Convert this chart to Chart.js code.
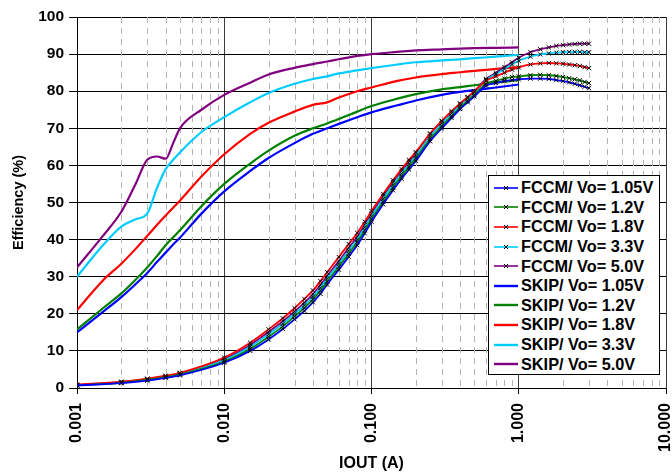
<!DOCTYPE html>
<html>
<head>
<meta charset="utf-8">
<script src="https://cdn.jsdelivr.net/npm/chart.js@4.4.1/dist/chart.umd.min.js"></script>
<style>
  html, body { margin: 0; padding: 0; background: #fff; }
  #wrap { position: relative; width: 672px; height: 474px; }
  #effChart { position: absolute; left: 0; top: 0; }
  #legend {
    position: absolute; left: 488px; top: 175px; width: 172px; height: 200px;
    box-sizing: border-box; border: 1px solid #000; background: #fff;
    padding: 2px 0 0 5px;
    font: bold 16.3px "Liberation Sans", Arial, sans-serif; color: #000;
  }
  #legend .row { display: flex; align-items: center; height: 19.6px; white-space: nowrap; }
  #legend svg { margin-right: 3px; flex: none; }
</style>
</head>
<body>
<div id="wrap">
  <canvas id="effChart" width="672" height="474"></canvas>
  <div id="legend"></div>
</div>
<script>
// Output current (A)
const fccmIout = [0.001, 0.002, 0.003, 0.004, 0.005, 0.01, 0.015, 0.02, 0.025, 0.03, 0.035, 0.04, 0.045, 0.05,
  0.06, 0.07, 0.08, 0.09, 0.1, 0.12, 0.14, 0.16, 0.18, 0.2, 0.25, 0.3, 0.35, 0.4, 0.45, 0.5,
  0.6, 0.7, 0.8, 0.9, 1.0, 1.2, 1.4, 1.6, 1.8, 2.0, 2.2, 2.4, 2.6, 2.8, 3.0];
const skipIout = [0.001, 0.0015, 0.002, 0.0025, 0.003, 0.0035, 0.004, 0.0045, 0.005, 0.007, 0.01, 0.015, 0.02,
  0.03, 0.04, 0.05, 0.06, 0.08, 0.1, 0.15, 0.2, 0.3, 0.4, 0.5, 0.7, 1.0];

// Efficiency (%) - FCCM
const fccm105 = [0.7, 1.3, 2.0, 2.7, 3.4, 6.8, 10, 13.1, 15.9, 18.5, 20.8, 23.1, 25.4, 27.9, 31.9, 35.4, 38.5, 41.7, 44.8,
  49.5, 53.3, 56.4, 58.9, 61.2, 66.5, 70, 72.8, 75.2, 77, 78.6,
  81.5, 82.2, 82.7, 83, 83.2, 83.4, 83.4, 83.3, 83, 82.7, 82.4, 82, 81.6, 81.2, 80.8];
const fccm12 = [0.7, 1.4, 2.2, 2.9, 3.6, 7.1, 10.5, 13.8, 16.6, 19.3, 21.6, 23.9, 26.2, 28.7, 32.7, 36.2, 39.3, 42.5, 45.5,
  50.2, 54, 57.1, 59.6, 61.9, 67.1, 70.6, 73.3, 75.6, 77.4, 79,
  82, 82.8, 83.4, 83.8, 84, 84.3, 84.4, 84.3, 84.1, 83.8, 83.5, 83.2, 82.9, 82.5, 82.2];
const fccm18 = [0.9, 1.7, 2.5, 3.3, 4.1, 8.2, 12.2, 15.8, 18.8, 21.5, 24, 26.3, 28.8, 31.2, 35.3, 38.8, 41.8, 44.8, 47.7,
  52.3, 56, 59, 61.5, 63.6, 68.6, 72, 74.6, 76.7, 78.4, 80,
  82.8, 84, 85, 85.8, 86.4, 87.2, 87.5, 87.6, 87.5, 87.4, 87.2, 87, 86.8, 86.5, 86.2];
const fccm33 = [0.8, 1.5, 2.3, 3.0, 3.8, 7.5, 11.1, 14.5, 17.3, 20, 22.3, 24.6, 27, 29.5, 33.5, 37, 40, 43.3, 46.3,
  51, 54.8, 57.8, 60.3, 62.6, 67.8, 71.3, 74, 76.2, 78, 79.6,
  83, 84.6, 86, 87.2, 88.2, 89.3, 89.9, 90.2, 90.4, 90.5, 90.6, 90.6, 90.6, 90.5, 90.5];
const fccm50 = [0.8, 1.6, 2.4, 3.1, 3.9, 7.8, 11.6, 15.1, 18, 20.6, 23, 25.3, 27.8, 30.2, 34.2, 37.8, 40.8, 44, 47,
  51.8, 55.5, 58.5, 61, 63.2, 68.4, 71.8, 74.4, 76.6, 78.4, 80,
  83.3, 85, 86.5, 87.8, 89, 90.5, 91.3, 91.8, 92.2, 92.4, 92.6, 92.7, 92.8, 92.8, 92.8];

// Efficiency (%) - SKIP
const skip105 = [15, 20.5, 24.5, 28, 31, 34, 36.5, 38.7, 40.5, 47, 53, 58.5, 62, 66, 68.5, 70, 71.2, 73, 74.3, 76.2, 77.5, 79, 79.8, 80.3, 81, 81.8];
const skip12 = [15.8, 21.5, 25.5, 29.2, 32.5, 35.6, 38.5, 40.6, 42.5, 49, 55, 60.5, 64, 68, 70, 71.3, 72.5, 74.5, 76, 78, 79.2, 80.5, 81.1, 81.6, 82.3, 83];
const skip18 = [21, 29, 33.5, 37.5, 41, 44, 46.5, 48.6, 50.5, 57, 63, 68.5, 71.5, 74.5, 76.3, 77, 78.3, 80, 81, 82.8, 83.7, 84.6, 85.1, 85.5, 86, 86.5];
const skip33 = [30, 38.5, 43.5, 45.5, 47, 54, 59, 61.5, 63.5, 69, 73, 77, 79.5, 82, 83.3, 84, 84.8, 85.6, 86.2, 87.2, 87.8, 88.3, 88.6, 88.9, 89.3, 89.8];
const skip50 = [32.5, 41, 47.5, 55, 61.5, 62.4, 61.8, 66, 70, 75, 79, 82.3, 84.5, 86.3, 87.3, 88, 88.6, 89.5, 90, 90.6, 91, 91.3, 91.5, 91.6, 91.7, 91.8];

const xMajorTicks = [0.001, 0.01, 0.1, 1, 10];
const xMinorSteps = [2, 3, 4, 5, 6, 7, 8, 9];

const FONT = '"Liberation Sans", Arial, sans-serif';
const toPoints = (xs, ys) => xs.map((x, i) => ({ x: x, y: ys[i] }));

function fccmSet(label, color, ys) {
    return {
        label: label, data: toPoints(fccmIout, ys), borderColor: color, backgroundColor: color,
        borderWidth: 1.8, pointStyle: 'crossRot', pointRadius: 3, pointBorderColor: '#000',
        pointBorderWidth: 1, cubicInterpolationMode: 'monotone', fccm: true
    };
}
function skipSet(label, color, ys) {
    return {
        label: label, data: toPoints(skipIout, ys), borderColor: color, backgroundColor: color,
        borderWidth: 2.2, pointRadius: 0, cubicInterpolationMode: 'monotone', fccm: false
    };
}

// dashed minor grid lines on the log axis
const minorGrid = {
    id: 'minorGrid',
    beforeDatasetsDraw(chart) {
        const { ctx, chartArea, scales } = chart;
        ctx.save();
        ctx.strokeStyle = '#b4b4b4';
        ctx.lineWidth = 1;
        ctx.setLineDash([6, 5]);
        xMajorTicks.slice(0, -1).forEach(dec => {
            xMinorSteps.forEach(k => {
                const px = Math.round(scales.x.getPixelForValue(dec * k)) + 0.5;
                ctx.beginPath();
                ctx.moveTo(px, chartArea.top);
                ctx.lineTo(px, chartArea.bottom);
                ctx.stroke();
            });
        });
        ctx.restore();
    }
};

const chart = new Chart(document.getElementById('effChart'), {
    type: 'line',
    data: {
        datasets: [
            fccmSet('FCCM/ Vo= 1.05V', '#0000ff', fccm105),
            fccmSet('FCCM/ Vo= 1.2V', '#008000', fccm12),
            fccmSet('FCCM/ Vo= 1.8V', '#ff0000', fccm18),
            fccmSet('FCCM/ Vo= 3.3V', '#00ccff', fccm33),
            fccmSet('FCCM/ Vo= 5.0V', '#800080', fccm50),
            skipSet('SKIP/ Vo= 1.05V', '#0000ff', skip105),
            skipSet('SKIP/ Vo= 1.2V', '#008000', skip12),
            skipSet('SKIP/ Vo= 1.8V', '#ff0000', skip18),
            skipSet('SKIP/ Vo= 3.3V', '#00ccff', skip33),
            skipSet('SKIP/ Vo= 5.0V', '#800080', skip50)
        ]
    },
    options: {
        responsive: false,
        animation: false,
        devicePixelRatio: 1,
        layout: { padding: { top: 17, right: 6, left: 0, bottom: 0 } },
        plugins: { legend: { display: false }, tooltip: { enabled: false } },
        scales: {
            x: {
                type: 'logarithmic', min: 0.001, max: 10,
                afterBuildTicks: (scale) => { scale.ticks = xMajorTicks.map(v => ({ value: v })); },
                afterFit: (scale) => { scale.height = 86; scale.paddingLeft = 0; scale.paddingRight = 0; },
                grid: { color: '#3c3c3c', lineWidth: 1, tickLength: 6, tickColor: '#000' },
                border: { color: '#000', width: 1 },
                ticks: {
                    autoSkip: false, minRotation: 90, maxRotation: 90, padding: 9, color: '#000',
                    font: { family: FONT, size: 16, weight: 'bold' },
                    callback: (v) => Number(v).toFixed(3)
                },
                title: {
                    display: true, text: 'IOUT (A)', color: '#000',
                    font: { family: FONT, size: 16, weight: 'bold' }, padding: { top: 0, bottom: 1 }
                }
            },
            y: {
                min: 0, max: 100,
                afterFit: (scale) => { scale.width = 77; },
                grid: { color: '#000', lineWidth: 1, tickLength: 8 },
                border: { color: '#000', width: 1 },
                ticks: {
                    stepSize: 10, padding: 5, color: '#000',
                    font: { family: FONT, size: 15.5, weight: 'bold' }
                },
                title: {
                    display: true, text: 'Efficiency (%)', color: '#000',
                    font: { family: FONT, size: 14.5, weight: 'bold' }, padding: { top: 10, bottom: 0 }
                }
            }
        }
    },
    plugins: [minorGrid]
});

// HTML legend built from the datasets
const legendEl = document.getElementById('legend');
chart.data.datasets.forEach(ds => {
    const row = document.createElement('div');
    row.className = 'row';
    const mark = ds.fccm
        ? '<line x1="10" y1="3" x2="14" y2="7" stroke="#000" stroke-width="1"/><line x1="14" y1="3" x2="10" y2="7" stroke="#000" stroke-width="1"/>'
        : '';
    row.innerHTML = '<svg width="24" height="10"><line x1="0" y1="5" x2="24" y2="5" stroke="' + ds.borderColor +
        '" stroke-width="' + (ds.fccm ? 1.6 : 2.4) + '"/>' + mark + '</svg>';
    row.appendChild(document.createTextNode(ds.label));
    legendEl.appendChild(row);
});
</script>
</body>
</html>
